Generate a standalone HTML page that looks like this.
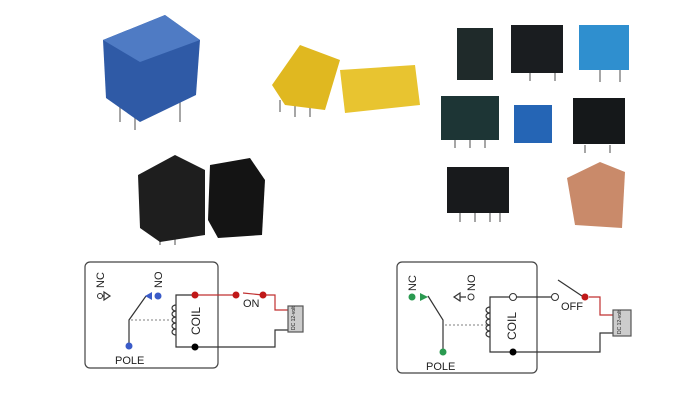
<!DOCTYPE html><html><head><style>body{margin:0;background:#fff}svg{display:block}</style></head><body>
<svg width="700" height="400" viewBox="0 0 700 400" font-family="Liberation Sans, sans-serif">
<rect width="700" height="400" fill="#fff"/>
<!-- photos -->
<g stroke="#888" stroke-width="1.5">
<path d="M120,100 v22 M135,108 v22 M180,100 v22 M280,100 v12 M295,105 v12 M310,105 v12 M160,235 v10 M175,235 v10 M460,212 v10 M475,212 v10 M490,212 v10 M500,212 v10 M455,140 v8 M470,140 v8 M485,140 v8 M530,73 v8 M555,73 v8 M585,145 v8 M610,145 v8 M600,70 v12 M620,70 v12"/>
</g>
<polygon points="103,40 165,15 200,40 196,95 140,122 106,98" fill="#2f5aa6"/>
<polygon points="103,40 165,15 200,40 140,62" fill="#4f7bc4"/>
<polygon points="272,85 300,45 340,60 325,110 285,105" fill="#e0b820"/>
<polygon points="340,70 415,65 420,105 345,113" fill="#e8c430"/>
<polygon points="138,175 175,155 205,170 205,235 160,242 140,228" fill="#1e1e1e"/>
<polygon points="210,165 250,158 265,180 262,235 218,238 208,220" fill="#141414"/>
<rect x="457" y="28" width="36" height="52" fill="#1f2a2a"/>
<rect x="511" y="25" width="52" height="48" fill="#1a1d20"/>
<rect x="579" y="25" width="50" height="45" fill="#2f8fcf"/>
<rect x="441" y="96" width="58" height="44" fill="#1d3535"/>
<rect x="514" y="105" width="38" height="38" fill="#2565b5"/>
<rect x="573" y="98" width="52" height="46" fill="#15181a"/>
<rect x="447" y="167" width="62" height="46" fill="#181a1c"/>
<polygon points="567,178 600,162 625,172 622,228 575,225" fill="#c98a6a"/>
<g stroke="#333" stroke-width="1.2" fill="none">
<!-- left diagram -->
<rect x="85" y="262" width="133" height="106" rx="5" stroke="#444"/>
<path d="M146,296 L129,320 L129,345"/>
<path d="M131,320 L170,320" stroke="#999" stroke-dasharray="2,2"/>
<path d="M195,295 H176 V347 H275 V330 H288"/>
<path d="M176,305 a4,3 0 1 0 0,6 a4,3 0 1 0 0,6 a4,3 0 1 0 0,6 a4,3 0 1 0 0,6 a4,3 0 1 0 0,6" />
<path d="M195,295 H236 M243,293 L263,295 H275 V310 H288" stroke="#c03030"/>
<rect x="288" y="306" width="15" height="26" fill="#ccc" stroke="#555"/>
<path d="M98,296 h6 M104,292 l6,4 l-6,4z"/>
<!-- right diagram -->
<rect x="397" y="262" width="140" height="111" rx="5" stroke="#444"/>
<path d="M428,296 L443,320 L443,350"/>
<path d="M445,325 L487,325" stroke="#999" stroke-dasharray="2,2"/>
<path d="M510,297 H490 V352 H600 V333 H613 M516,297 H552 M558,280 L582,296"/>
<path d="M490,307 a4,3 0 1 0 0,6 a4,3 0 1 0 0,6 a4,3 0 1 0 0,6 a4,3 0 1 0 0,6 a4,3 0 1 0 0,6"/>
<path d="M589,297 H600 V315 H613" stroke="#c03030"/>
<rect x="613" y="310" width="18" height="26" fill="#ccc" stroke="#555"/>
<path d="M466,297 h-6 M460,293 l-6,4 l6,4z"/>
</g>
<g stroke="#333" fill="#fff"><circle cx="100" cy="296" r="2.5"/><circle cx="471" cy="297" r="3"/><circle cx="513" cy="297" r="3.5"/><circle cx="555" cy="297" r="3.5"/></g>
<circle cx="158" cy="296" r="3.5" fill="#3a5bc8"/><polygon points="152,292 145,296 152,300" fill="#3a5bc8"/>
<circle cx="129" cy="346" r="3.5" fill="#3a5bc8"/>
<circle cx="195" cy="295" r="3.5" fill="#c01818"/><circle cx="236" cy="295" r="3.5" fill="#c01818"/><circle cx="263" cy="295" r="3.5" fill="#c01818"/>
<circle cx="195" cy="347" r="3.5" fill="#000"/>
<circle cx="412" cy="297" r="3.5" fill="#2a9a50"/><polygon points="420,293 428,297 420,301" fill="#2a9a50"/>
<circle cx="443" cy="352" r="3.5" fill="#2a9a50"/>
<circle cx="585" cy="297" r="3.5" fill="#c01818"/><circle cx="513" cy="352" r="3.5" fill="#000"/>
<g font-size="11" fill="#222">
<text x="115" y="364">POLE</text><text x="243" y="307">ON</text>
<text x="426" y="370">POLE</text><text x="561" y="310">OFF</text>
<text transform="translate(104,288) rotate(-90)">NC</text>
<text transform="translate(162,288) rotate(-90)">NO</text>
<text transform="translate(200,335) rotate(-90)" font-size="12">COIL</text>
<text transform="translate(416,291) rotate(-90)">NC</text>
<text transform="translate(475,291) rotate(-90)">NO</text>
<text transform="translate(516,340) rotate(-90)" font-size="12">COIL</text>
<text transform="translate(295,330) rotate(-90)" font-size="5">DC 12-volt</text>
<text transform="translate(621,334) rotate(-90)" font-size="5">DC 12-volt</text>
</g>
</svg></body></html>
